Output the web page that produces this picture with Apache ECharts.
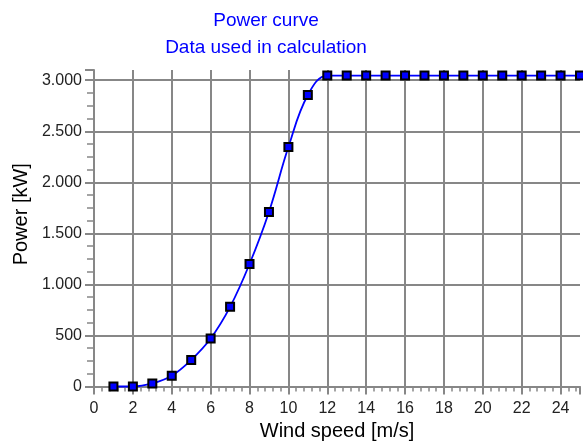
<!DOCTYPE html>
<html lang="en">
<head>
  <meta charset="UTF-8">
  <title>Power curve</title>
  <script src="https://cdn.jsdelivr.net/npm/echarts@6/dist/echarts.min.js"></script>
  <style>
    html, body { margin: 0; padding: 0; background: #fff; }
    #chart { width: 583px; height: 443px; }
  </style>
</head>
<body>
<div id="chart"></div>
<script>
  // wind speed [m/s] and power [kW]
  var windSpeed = [1, 2, 3, 4, 5, 6, 7, 8, 9, 10, 11, 12, 13, 14, 15, 16, 17, 18, 19, 20, 21, 22, 23, 24, 25]
  var power = [0, 0, 30, 105, 260, 470, 780, 1200, 1710, 2345, 2855, 3045, 3045, 3045, 3045, 3045,
    3045, 3045, 3045, 3045, 3045, 3045, 3045, 3045, 3045]
  var titleLines = ['Power curve', 'Data used in calculation']

  var gridColor = '#878787'
  var font = '"Liberation Sans", Arial, sans-serif'

  function dotThousands(v) {
    return String(v).replace(/\B(?=(\d{3})+(?!\d))/g, '.')
  }

  var chart = echarts.init(document.getElementById('chart'), null, { renderer: 'canvas' })

  var option = {
    animation: false,
    backgroundColor: '#fff',
    title: {
      text: titleLines.join('\n'),
      left: 261,
      top: 2,
      textAlign: 'center',
      textStyle: {
        color: '#0000ff',
        fontFamily: font,
        fontWeight: 'normal',
        fontSize: 19,
        lineHeight: 27
      }
    },
    grid: { left: 94, right: 3, top: 70, bottom: 56.5, outerBoundsMode: 'none' },
    xAxis: {
      type: 'value',
      min: 0,
      max: 25,
      interval: 2,
      z: 3,
      name: 'Wind speed [m/s]',
      nameLocation: 'middle',
      nameGap: 35,
      nameTextStyle: { color: '#000', fontFamily: font, fontSize: 20 },
      axisLine: { show: true, lineStyle: { color: gridColor, width: 2 } },
      axisTick: { show: true, length: 8, lineStyle: { color: gridColor, width: 2 } },
      minorTick: { show: true, splitNumber: 5, length: 5, lineStyle: { color: gridColor, width: 1.5 } },
      axisLabel: {
        color: '#222', fontFamily: font, fontSize: 16, margin: 14,
        showMaxLabel: false
      },
      splitLine: { show: true, showMaxLine: false, lineStyle: { color: gridColor, width: 2 } }
    },
    yAxis: {
      type: 'value',
      min: 0,
      max: 3100,
      interval: 500,
      name: 'Power [kW]',
      nameLocation: 'middle',
      nameRotate: 90,
      nameGap: 62,
      nameTextStyle: { color: '#000', fontFamily: font, fontSize: 20, padding: [0, 0, 0, 28] },
      axisLine: { show: true, lineStyle: { color: gridColor, width: 2 } },
      axisTick: { show: true, length: 9, lineStyle: { color: gridColor, width: 2 } },
      minorTick: { show: true, splitNumber: 4, length: 7, lineStyle: { color: gridColor, width: 1.5 } },
      axisLabel: {
        color: '#222', fontFamily: font, fontSize: 16, margin: 12,
        showMaxLabel: false,
        formatter: dotThousands
      },
      splitLine: { show: true, showMaxLine: false, lineStyle: { color: gridColor, width: 2 } }
    },
    series: [
      {
        type: 'line',
        data: windSpeed.map(function(w, i) { return [w, power[i]] }),
        smooth: 0.4,
        clip: false,
        symbol: 'rect',
        symbolSize: 8,
        lineStyle: { color: '#0000ff', width: 1.8 },
        itemStyle: { color: '#0000ff', borderColor: '#000', borderWidth: 2 }
      }
    ]
  }

  chart.setOption(option)
  window.addEventListener('resize', chart.resize)
</script>
</html>
